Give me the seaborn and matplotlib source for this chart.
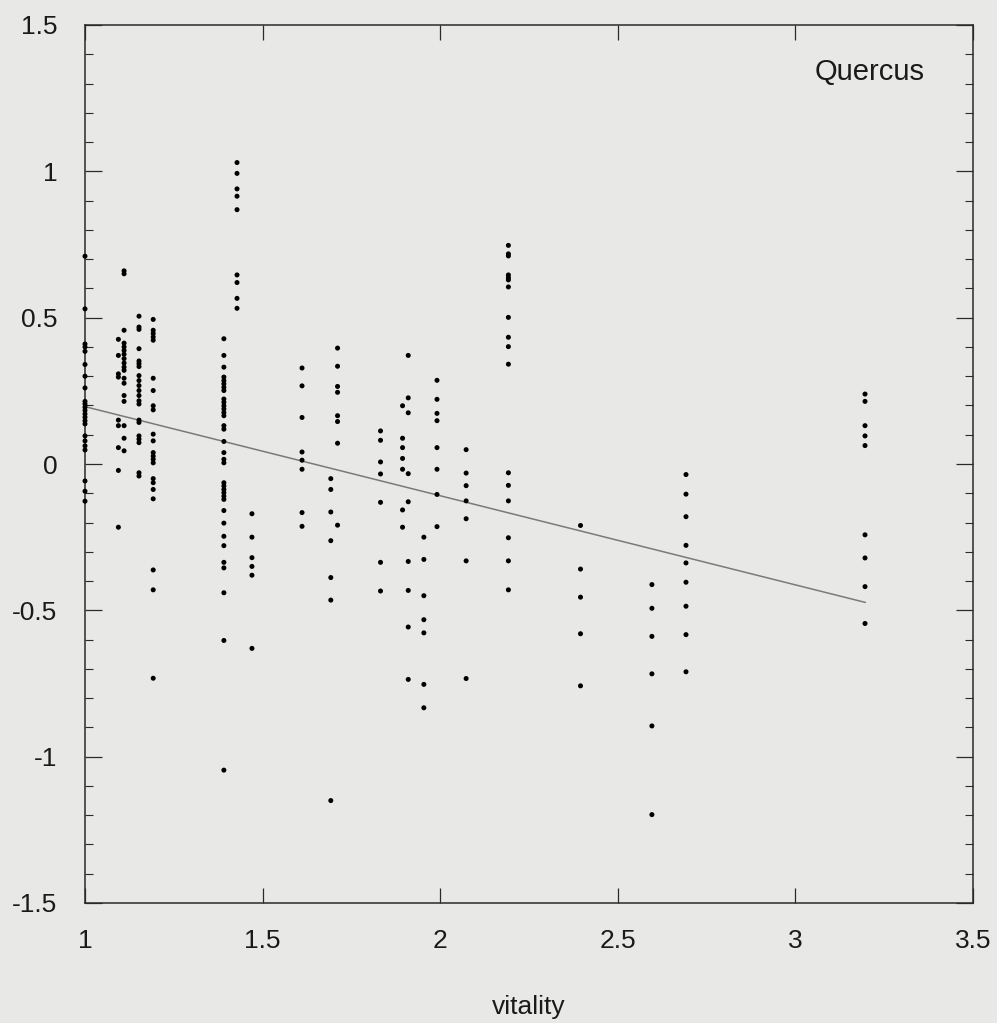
import numpy as np
import pandas as pd
import matplotlib
matplotlib.use("Agg")
import matplotlib.pyplot as plt
from matplotlib.ticker import MultipleLocator, FormatStrFormatter
import seaborn as sns

# Vitality class of each column of trees and the residuals observed at that class
vitality_levels = [1.0, 1.094, 1.11, 1.152, 1.192, 1.391, 1.428, 1.47, 1.611,
                   1.692, 1.711, 1.832, 1.894, 1.91, 1.954, 1.991, 2.073, 2.192,
                   2.395, 2.596, 2.692, 3.196]

res_100 = [0.71, 0.53, 0.41, 0.40, 0.385, 0.34, 0.30, 0.26, 0.214, 0.205, 0.194,
           0.183, 0.171, 0.16, 0.148, 0.137, 0.096, 0.079, 0.062, 0.048, -0.058,
           -0.093, -0.127]
res_109 = [0.426, 0.371, 0.308, 0.297, 0.150, 0.131, 0.056, -0.022, -0.216]
res_111 = [0.66, 0.65, 0.457, 0.413, 0.400, 0.388, 0.375, 0.360, 0.345, 0.331,
           0.320, 0.293, 0.276, 0.234, 0.214, 0.131, 0.088, 0.045]
res_115 = [0.505, 0.468, 0.460, 0.394, 0.352, 0.343, 0.333, 0.302, 0.285, 0.268,
           0.251, 0.234, 0.216, 0.205, 0.150, 0.142, 0.096, 0.085, 0.073, -0.030,
           -0.041]
res_119 = [0.494, 0.457, 0.446, 0.434, 0.423, 0.293, 0.251, 0.199, 0.185, 0.102,
           0.079, 0.039, 0.027, 0.016, 0.004, -0.050, -0.064, -0.087, -0.119,
           -0.362, -0.430, -0.732]
res_139 = [0.428, 0.371, 0.331, 0.297, 0.285, 0.274, 0.262, 0.251, 0.222, 0.211,
           0.199, 0.188, 0.176, 0.165, 0.131, 0.119, 0.077, 0.039, 0.016, 0.004,
           -0.064, -0.075, -0.087, -0.098, -0.110, -0.121, -0.159, -0.202, -0.247,
           -0.279, -0.336, -0.355, -0.440, -0.603, -1.046]
res_143 = [1.030, 0.993, 0.940, 0.915, 0.869, 0.646, 0.620, 0.566, 0.532]
res_147 = [-0.17, -0.25, -0.32, -0.35, -0.38, -0.63]
res_161 = [0.328, 0.267, 0.159, 0.041, 0.013, -0.018, -0.166, -0.213]
res_169 = [-0.050, -0.087, -0.164, -0.262, -0.388, -0.465, -1.15]
res_171 = [0.396, 0.334, 0.265, 0.245, 0.165, 0.145, 0.071, -0.209]
res_183 = [0.113, 0.081, 0.007, -0.034, -0.131, -0.336, -0.434]
res_189 = [0.199, 0.088, 0.056, 0.019, -0.018, -0.157, -0.216]
res_191 = [0.371, 0.226, 0.175, -0.033, -0.129, -0.333, -0.432, -0.557, -0.736]
res_195 = [-0.250, -0.326, -0.450, -0.532, -0.577, -0.753, -0.833]
res_199 = [0.286, 0.221, 0.173, 0.148, 0.056, -0.018, -0.104, -0.214]
res_207 = [0.049, -0.031, -0.074, -0.126, -0.187, -0.331, -0.733]
res_219 = [0.747, 0.718, 0.711, 0.646, 0.637, 0.629, 0.605, 0.501, 0.433, 0.401,
           0.341, -0.030, -0.073, -0.126, -0.252, -0.331, -0.430]
res_240 = [-0.210, -0.359, -0.455, -0.580, -0.758]
res_260 = [-0.412, -0.493, -0.589, -0.717, -0.895, -1.198]
res_269 = [-0.036, -0.103, -0.180, -0.278, -0.338, -0.404, -0.486, -0.583, -0.710]
res_320 = [0.239, 0.214, 0.131, 0.096, 0.063, -0.242, -0.321, -0.419, -0.545]

residual_columns = [res_100, res_109, res_111, res_115, res_119, res_139, res_143,
                    res_147, res_161, res_169, res_171, res_183, res_189, res_191,
                    res_195, res_199, res_207, res_219, res_240, res_260, res_269,
                    res_320]

# Fitted trend line end points
trend_x = [1.0, 3.197]
trend_y = [0.196, -0.473]

x_ticks = [1, 1.5, 2, 2.5, 3, 3.5]
y_ticks = [-1.5, -1, -0.5, 0, 0.5, 1, 1.5]
species = "Quercus"
x_title = "vitality"

rows = [(xv, yv) for xv, col in zip(vitality_levels, residual_columns) for yv in col]
df = pd.DataFrame(rows, columns=["vitality", "residual"])
trend = pd.DataFrame({"vitality": trend_x, "residual": trend_y})

bg = "#e8e9e6"
sns.set_style("ticks", {"axes.facecolor": bg, "figure.facecolor": bg,
                        "axes.edgecolor": "#2a2a2a"})
plt.rcParams["font.family"] = ["Liberation Sans", "DejaVu Sans"]
plt.rcParams["axes.unicode_minus"] = False

fig = plt.figure(figsize=(9.97, 10.23), dpi=100)
ax = fig.add_axes([85 / 997, 1 - 903 / 1023, 888 / 997, 878 / 1023])

sns.lineplot(data=trend, x="vitality", y="residual", ax=ax, color="#7a7a7a",
             linewidth=1.1)
sns.scatterplot(data=df, x="vitality", y="residual", ax=ax, color="black",
                s=13, linewidth=0, edgecolor="none", zorder=3, clip_on=False)

ax.set_xlim(1, 3.5)
ax.set_ylim(-1.5, 1.5)
ax.set_xticks(x_ticks)
ax.set_yticks(y_ticks)
ax.xaxis.set_major_formatter(FormatStrFormatter("%g"))
ax.yaxis.set_major_formatter(FormatStrFormatter("%g"))
ax.yaxis.set_minor_locator(MultipleLocator(0.1))

for side in ax.spines.values():
    side.set_linewidth(1.1)
    side.set_color("#2a2a2a")

ax.tick_params(axis="x", which="major", direction="in", length=11, width=0.9,
               top=True, bottom=True, labelsize=19, pad=19, colors="#2a2a2a",
               labelcolor="#1a1a1a")
ax.tick_params(axis="y", which="major", direction="in", length=12, width=0.9,
               left=True, right=True, labelsize=19, pad=20, colors="#2a2a2a",
               labelcolor="#1a1a1a")
ax.tick_params(axis="y", which="minor", direction="in", length=6, width=0.8,
               left=True, right=True, colors="#2a2a2a")

ax.set_xlabel(x_title, fontsize=19, labelpad=30, color="#1a1a1a")
ax.set_ylabel("")
ax.text(0.946, 0.947, species, transform=ax.transAxes, ha="right", va="center",
        fontsize=21, color="#1a1a1a")

fig.savefig("out.png", dpi=100, facecolor=bg)
